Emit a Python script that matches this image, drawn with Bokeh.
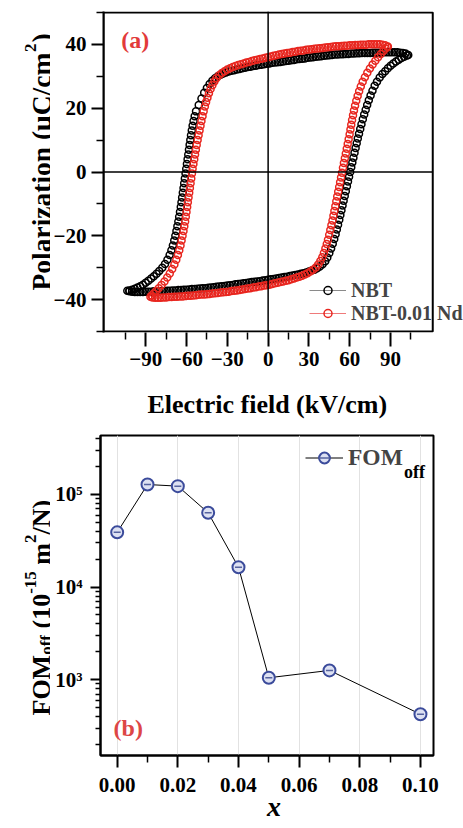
import math
from bokeh.plotting import figure
from bokeh.layouts import column, row
from bokeh.models import (Range1d, FixedTicker, Span, Label, Legend, LegendItem,
                          PrintfTickFormatter, BoxAnnotation)
from bokeh.embed import file_html
from bokeh.resources import INLINE

# ---------------- data: panel (a) P-E loops (E in kV/cm, P in uC/cm2) ----------------
nbt_upper = [(103, 36.7), (101, 37.1), (99, 37.3), (97, 37.4), (95, 37.5), (93, 37.5), (91, 37.5),
             (89, 37.5), (87, 37.5), (85, 37.5), (83, 37.4), (81, 37.4), (79, 37.4), (77, 37.4),
             (75, 37.3), (73, 37.3), (71, 37.3), (69, 37.3), (67, 37.2), (65, 37.2), (63, 37.1),
             (61, 37.1), (59, 37.0), (57, 37.0), (55, 36.9), (53, 36.9), (51, 36.8), (49, 36.8),
             (47, 36.7), (45, 36.6), (43, 36.5), (41, 36.4), (39, 36.3), (37, 36.2), (35, 36.1),
             (33, 36.0), (31, 35.9), (29, 35.8), (27, 35.6), (25, 35.5), (23, 35.4), (21, 35.3),
             (19, 35.1), (17, 35.0), (15, 34.9), (13, 34.8), (11, 34.6), (9, 34.5), (7, 34.4),
             (5, 34.3), (3, 34.2), (1, 34.0), (-1, 33.9), (-3, 33.8), (-5, 33.6), (-7, 33.5),
             (-9, 33.3), (-11, 33.2), (-13, 33.0), (-15, 32.9), (-17, 32.7), (-19, 32.5),
             (-21, 32.3), (-23, 32.1), (-25, 31.9), (-27, 31.7), (-29, 31.5), (-31, 31.2),
             (-33, 30.9), (-35, 30.5), (-37, 30.0), (-39, 29.4), (-41, 28.6), (-43, 27.6),
             (-45, 26.3), (-47, 24.8), (-49, 23.0), (-51, 21.0), (-53, 19.0), (-54, 17.5),
             (-54.8, 16), (-55.5, 14.5), (-56.1, 13), (-56.7, 11.5), (-57.2, 10), (-57.7, 8.5),
             (-58.2, 7), (-58.7, 5.5), (-59.2, 4), (-59.7, 2.5), (-60.2, 1), (-60.7, -0.5),
             (-61.2, -2), (-61.7, -3.5), (-62.2, -5), (-62.7, -6.5), (-63.2, -8), (-63.7, -9.5),
             (-64.2, -11), (-64.8, -12.5), (-65.4, -14), (-66.0, -15.5), (-66.7, -17),
             (-67.4, -18.5), (-68.2, -20), (-69.0, -21.5), (-70.0, -23), (-71.1, -24.5),
             (-72.4, -26), (-74.0, -27.5), (-75.8, -28.8), (-77.8, -30), (-80, -31),
             (-82, -31.9), (-84, -32.7), (-86, -33.4), (-88, -34.1), (-90, -34.7), (-92, -35.3),
             (-94, -35.8), (-96, -36.2), (-98, -36.6), (-100, -36.9), (-102, -37.1),
             (-103.5, -37.2)]

nbt_lower = [(-102, -37.4), (-100, -37.5), (-98, -37.6), (-96, -37.6), (-94, -37.6), (-92, -37.6),
             (-90, -37.5), (-88, -37.5), (-86, -37.5), (-84, -37.4), (-82, -37.4), (-80, -37.4),
             (-78, -37.3), (-76, -37.3), (-74, -37.2), (-72, -37.2), (-70, -37.1), (-68, -37.1),
             (-66, -37.0), (-64, -37.0), (-62, -36.9), (-60, -36.9), (-58, -36.8), (-56, -36.7),
             (-54, -36.7), (-52, -36.6), (-50, -36.5), (-48, -36.4), (-46, -36.4), (-44, -36.3),
             (-42, -36.2), (-40, -36.1), (-38, -36.0), (-36, -35.9), (-34, -35.8), (-32, -35.7),
             (-30, -35.6), (-28, -35.5), (-26, -35.4), (-24, -35.2), (-22, -35.1), (-20, -35.0),
             (-18, -34.9), (-16, -34.8), (-14, -34.6), (-12, -34.5), (-10, -34.4), (-8, -34.3),
             (-6, -34.2), (-4, -34.0), (-2, -33.9), (0, -33.8), (2, -33.6), (4, -33.5),
             (6, -33.4), (8, -33.2), (10, -33.1), (12, -32.9), (14, -32.8), (16, -32.6),
             (18, -32.4), (20, -32.3), (22, -32.1), (24, -31.9), (26, -31.7), (28, -31.5),
             (30, -31.2), (32, -30.9), (34, -30.6), (36, -30.2), (38, -29.6), (40, -28.9),
             (42, -28.0), (43.5, -26.8), (45, -25.4), (46.3, -24), (47.5, -22.5), (48.6, -21),
             (49.6, -19.5), (50.5, -18), (51.4, -16.5), (52.3, -15), (53.1, -13.5), (53.9, -12),
             (54.7, -10.5), (55.5, -9), (56.3, -7.5), (57.1, -6), (57.9, -4.5), (58.7, -3),
             (59.5, -1.5), (60.3, 0), (61.1, 1.5), (61.9, 3), (62.7, 4.5), (63.5, 6),
             (64.3, 7.5), (65.1, 9), (65.9, 10.5), (66.8, 12), (67.7, 13.5), (68.6, 15),
             (69.6, 16.5), (70.6, 18), (71.7, 19.5), (72.8, 21), (74.0, 22.5), (75.3, 24),
             (76.7, 25.5), (78.3, 27), (80.0, 28.3), (82, 29.6), (84, 30.7), (86, 31.6),
             (88, 32.5), (90, 33.3), (92, 34.0), (94, 34.6), (96, 35.2), (98, 35.7),
             (100, 36.1), (102, 36.5)]

nd_upper = [(88, 39.3), (86, 39.7), (84, 39.9), (82, 40.0), (80, 40.0), (78, 40.0), (76, 40.0),
            (74, 40.0), (72, 39.9), (70, 39.9), (68, 39.9), (66, 39.8), (64, 39.8), (62, 39.7),
            (60, 39.7), (58, 39.6), (56, 39.6), (54, 39.5), (52, 39.4), (50, 39.4), (48, 39.3),
            (46, 39.2), (44, 39.1), (42, 39.0), (40, 38.9), (38, 38.8), (36, 38.7), (34, 38.6),
            (32, 38.5), (30, 38.4), (28, 38.3), (26, 38.1), (24, 38.0), (22, 37.9), (20, 37.7),
            (18, 37.6), (16, 37.4), (14, 37.3), (12, 37.1), (10, 37.0), (8, 36.8), (6, 36.6),
            (4, 36.4), (2, 36.2), (0, 36.0), (-2, 35.8), (-4, 35.6), (-6, 35.4), (-8, 35.2),
            (-10, 35.0), (-12, 34.8), (-14, 34.5), (-16, 34.3), (-18, 34.0), (-20, 33.8),
            (-22, 33.5), (-24, 33.2), (-26, 32.9), (-28, 32.5), (-30, 32.1), (-32, 31.6),
            (-34, 31.0), (-36, 30.3), (-38, 29.4), (-39.5, 28.4), (-41, 27.2), (-42.3, 26),
            (-43.5, 24.7), (-44.6, 23.3), (-45.6, 21.9), (-46.5, 20.5), (-47.4, 19),
            (-48.2, 17.5), (-49.0, 16), (-49.7, 14.5), (-50.4, 13), (-51.1, 11.5), (-51.8, 10),
            (-52.5, 8.5), (-53.1, 7), (-53.7, 5.5), (-54.3, 4), (-54.9, 2.5), (-55.5, 1),
            (-56.0, -0.5), (-56.5, -2), (-57.0, -3.5), (-57.5, -5), (-58.0, -6.5), (-58.5, -8),
            (-59.0, -9.5), (-59.5, -11), (-60.0, -12.5), (-60.5, -14), (-61.0, -15.5),
            (-61.6, -17), (-62.2, -18.5), (-62.9, -20), (-63.6, -21.5), (-64.4, -23),
            (-65.3, -24.5), (-66.3, -26), (-67.5, -27.5), (-68.9, -29), (-70.5, -30.4),
            (-72.3, -31.8), (-74.2, -33.1), (-76.2, -34.3), (-78.3, -35.4), (-80.4, -36.4),
            (-82.4, -37.3), (-84.2, -38.1), (-85.6, -38.7), (-86.5, -39.1)]

nd_lower = [(-85, -39.3), (-83, -39.4), (-81, -39.4), (-79, -39.4), (-77, -39.3), (-75, -39.3),
            (-73, -39.2), (-71, -39.2), (-69, -39.1), (-67, -39.1), (-65, -39.0), (-63, -39.0),
            (-61, -38.9), (-59, -38.8), (-57, -38.8), (-55, -38.7), (-53, -38.6), (-51, -38.5),
            (-49, -38.4), (-47, -38.4), (-45, -38.3), (-43, -38.2), (-41, -38.1), (-39, -38.0),
            (-37, -37.9), (-35, -37.8), (-33, -37.7), (-31, -37.6), (-29, -37.5), (-27, -37.3),
            (-25, -37.2), (-23, -37.1), (-21, -37.0), (-19, -36.8), (-17, -36.7), (-15, -36.5),
            (-13, -36.4), (-11, -36.2), (-9, -36.1), (-7, -35.9), (-5, -35.8), (-3, -35.6),
            (-1, -35.5), (1, -35.3), (3, -35.1), (5, -34.9), (7, -34.7), (9, -34.5),
            (11, -34.3), (13, -34.1), (15, -33.9), (17, -33.6), (19, -33.4), (21, -33.1),
            (23, -32.8), (25, -32.5), (27, -32.1), (29, -31.7), (31, -31.2), (33, -30.6),
            (35, -29.9), (36.8, -29.0), (38.4, -27.9), (39.8, -26.7), (41.0, -25.4),
            (42.1, -24), (43.1, -22.6), (44.0, -21.2), (44.9, -19.7), (45.7, -18.2),
            (46.5, -16.7), (47.3, -15.2), (48.0, -13.7), (48.7, -12.2), (49.4, -10.7),
            (50.1, -9.2), (50.8, -7.7), (51.5, -6.2), (52.2, -4.7), (52.9, -3.2), (53.6, -1.7),
            (54.3, -0.2), (55.0, 1.3), (55.7, 2.8), (56.4, 4.3), (57.1, 5.8), (57.8, 7.3),
            (58.5, 8.8), (59.2, 10.3), (59.9, 11.8), (60.5, 13.3), (61.1, 14.8), (61.7, 16.3),
            (62.4, 17.8), (63.1, 19.3), (63.9, 20.8), (64.8, 22.3), (65.8, 23.8), (66.9, 25.3),
            (68.1, 26.8), (69.5, 28.3), (71.1, 29.7), (72.9, 31.1), (74.8, 32.4), (76.8, 33.7),
            (78.8, 34.9), (80.8, 36.0), (82.8, 37.0), (84.7, 37.9), (86.4, 38.7), (87.7, 39.2)]

e_major_ticks = [-90, -60, -30, 0, 30, 60, 90]
e_minor_ticks = [-105, -75, -45, -15, 15, 45, 75, 105]
p_major_ticks = [-40, -20, 0, 20, 40]
p_minor_ticks = [-50, -30, -10, 10, 30, 50]
series_names = ["NBT", "NBT-0.01 Nd"]

# ---------------- data: panel (b) FOM_off vs x ----------------
x_content = [0.00, 0.01, 0.02, 0.03, 0.04, 0.05, 0.07, 0.10]
fom_off = [39000, 128000, 123000, 63400, 16400, 1050, 1260, 424]
x_major_ticks = [0.00, 0.02, 0.04, 0.06, 0.08, 0.10]
x_minor_ticks = [0.01, 0.03, 0.05, 0.07, 0.09]
fom_major_ticks = [1000, 10000, 100000]
fom_tick_labels = ["10\u00b3", "10\u2074", "10\u2075"]
fom_minor_ticks = [200, 300, 400, 500, 600, 700, 800, 900,
                   2000, 3000, 4000, 5000, 6000, 7000, 8000, 9000,
                   20000, 30000, 40000, 50000, 60000, 70000, 80000, 90000,
                   200000, 300000, 400000]

FONT = "Liberation Serif"
RED = "#e8261f"
NBSP = "\u00a0"

# Times-Bold advance widths (per 1000 em) for the hand-built rotated labels
W = {'P': 611, 'o': 500, 'l': 278, 'a': 500, 'r': 444, 'i': 278, 'z': 444, 't': 333,
     'n': 556, ' ': 250, '(': 333, ')': 333, '\u03bc': 556, 'C': 722, '/': 278, 'c': 444,
     'm': 833, '2': 500, 'F': 611, 'O': 778, 'M': 944, 'f': 333, '1': 500, '0': 500,
     '-': 333, '5': 500, 'N': 722}


def text_w(s, size):
    return sum(W.get(ch, 500) for ch in s) * size / 1000.0


def label_strip(height, pieces, y_canvas, y_aligned, base_x):
    """A narrow blank figure that carries a rotated, multi-size axis title.
    y_canvas: start measured from the strip's own bottom edge (frame = whole canvas);
    y_aligned: start measured from the neighbour plot's frame bottom (if frames align)."""
    f = figure(width=50, height=height, output_backend="svg", toolbar_location=None,
               x_range=Range1d(0, 1), y_range=Range1d(0, 1), x_axis_location=None,
               y_axis_location=None, min_border=0, min_border_left=0, min_border_right=0,
               min_border_top=0, min_border_bottom=0)
    if "frame_align" in f.properties():
        f.frame_align = False
        y = y_canvas
    else:
        y = y_aligned
    f.outline_line_color = None
    f.xgrid.visible = False
    f.ygrid.visible = False
    for text, size, dx, gap in pieces:
        y += gap
        f.add_layout(Label(x=base_x + dx, y=y, x_units="screen", y_units="screen",
                           text=text, angle=math.pi / 2, text_align="left",
                           text_baseline="alphabetic", text_font=FONT,
                           text_font_style="bold", text_font_size=f"{size}px",
                           text_color="black"))
        y += text_w(text, size)
    return f


def style_axes(p):
    for ax in (p.xaxis[0], p.yaxis[0]):
        ax.axis_line_width = 2
        ax.axis_line_color = "black"
        ax.major_tick_in = 0
        ax.minor_tick_in = 0
        ax.major_tick_line_width = 2
        ax.minor_tick_line_width = 1.5
        ax.major_label_text_font = FONT
        ax.major_label_text_font_style = "bold"
        ax.major_label_text_font_size = "21px"
        ax.major_label_text_color = "black"
        ax.axis_label_text_color = "black"
        ax.axis_label_text_font = FONT


# ---------------- panel (a) ----------------
# the frame runs to the right edge so the legend text may pass the drawn box
p1 = figure(width=413, height=425, output_backend="svg", toolbar_location=None,
            x_range=Range1d(-121, 143.6), y_range=Range1d(-50.3, 50.3),
            min_border_left=50, min_border_right=0, min_border_top=11,
            min_border_bottom=93)
p1.xgrid.visible = False
p1.ygrid.visible = False
p1.outline_line_color = None
style_axes(p1)
p1.xaxis.axis_line_color = None
p1.xaxis.ticker = FixedTicker(ticks=e_major_ticks, minor_ticks=e_minor_ticks)
p1.yaxis.ticker = FixedTicker(ticks=p_major_ticks, minor_ticks=p_minor_ticks)
p1.xaxis.major_tick_out = 14
p1.xaxis.minor_tick_out = 7
p1.yaxis.major_tick_out = 12
p1.yaxis.minor_tick_out = 7
p1.xaxis.major_label_standoff = 5
p1.yaxis.major_label_standoff = 5
p1.xaxis.axis_label = "Electric field (kV/cm)" + NBSP * 5
p1.xaxis.axis_label_text_font_style = "bold"
p1.xaxis.axis_label_text_font_size = "26px"
p1.xaxis.axis_label_standoff = 21

# drawn plot box and zero lines
p1.add_layout(BoxAnnotation(left=-121, right=121, bottom=-50, top=50, fill_alpha=0,
                            line_color="black", line_width=2, line_alpha=1))
p1.add_layout(Span(location=0, dimension="height", line_color="black", line_width=1.5))
p1.add_layout(BoxAnnotation(left=-121, right=121, bottom=0, top=0, fill_alpha=0,
                            line_color="black", line_width=1.5, line_alpha=1))

nbt_pts = nbt_upper + nbt_lower
nd_pts = nd_upper + nd_lower
s_nbt = p1.scatter([e for e, _ in nbt_pts], [v for _, v in nbt_pts], marker="circle",
                   size=7, line_color="black", line_width=1.5, fill_color=None)
s_nd = p1.scatter([e for e, _ in nd_pts], [v for _, v in nd_pts], marker="circle",
                  size=7, line_color=RED, line_width=1.5, fill_color=None)
# legend-only line styles (a single NaN point draws nothing in the plot)
l_nbt = p1.line(x=[math.nan], y=[math.nan], line_color="#8a8a8a", line_width=1.2)
l_nd = p1.line(x=[math.nan], y=[math.nan], line_color="#ef7a7a", line_width=1.2)

leg1 = Legend(items=[LegendItem(label=series_names[0], renderers=[l_nbt, s_nbt]),
                     LegendItem(label=series_names[1], renderers=[l_nd, s_nd])],
              location=(206, 7.5), padding=0, margin=0, spacing=0,
              glyph_width=37, glyph_height=20, label_height=23, label_standoff=5,
              label_text_font=FONT, label_text_font_style="bold",
              label_text_font_size="20px", border_line_alpha=0,
              background_fill_alpha=0)
p1.add_layout(leg1)

p1.add_layout(Label(x=-108, y=41.5, text="(a)", text_font=FONT, text_font_style="bold",
                    text_font_size="24px", text_color="#e23a3a", text_baseline="middle",
                    text_align="left"))

lab_a = label_strip(425, [("Polarization (\u03bcC/cm", 27.5, 0, 0), ("2", 17, -11, 1),
                          (")", 27.5, 0, 1)], y_canvas=135, y_aligned=42, base_x=41)

# ---------------- panel (b) ----------------
p2 = figure(width=413, height=403, output_backend="svg", toolbar_location=None,
            y_axis_type="log", x_range=Range1d(-0.0055, 0.1043), y_range=Range1d(152, 4.33e5),
            min_border_left=50, min_border_right=30, min_border_top=10,
            min_border_bottom=73)
style_axes(p2)
p2.outline_line_color = "black"
p2.outline_line_width = 2
p2.ygrid.visible = False
p2.xgrid.grid_line_color = "#e2e2e2"
p2.xgrid.grid_line_width = 1
p2.xaxis.ticker = FixedTicker(ticks=x_major_ticks, minor_ticks=x_minor_ticks)
p2.yaxis.ticker = FixedTicker(ticks=fom_major_ticks, minor_ticks=fom_minor_ticks)
p2.xaxis.formatter = PrintfTickFormatter(format="%.2f")
p2.yaxis.major_label_overrides = dict(zip(fom_major_ticks, fom_tick_labels))
p2.xaxis.major_tick_out = 12
p2.xaxis.minor_tick_out = 7
p2.yaxis.major_tick_out = 10
p2.yaxis.minor_tick_out = 5
p2.xaxis.major_label_standoff = 10
p2.yaxis.major_label_standoff = 8
p2.xaxis.axis_label = NBSP * 2 + "x"
p2.xaxis.axis_label_text_font_style = "bold italic"
p2.xaxis.axis_label_text_font_size = "28px"
p2.xaxis.axis_label_standoff = -4

ln = p2.line(x_content, fom_off, line_color="black", line_width=1)
sc = p2.scatter(x_content, fom_off, marker="circle", size=12, line_color="#3b4b9b",
                line_width=2, fill_color="#dde1f2")
dsh = p2.scatter(x_content, fom_off, marker="dash", size=7, line_color="#56639f",
                 line_width=1.5)

leg2 = Legend(items=[LegendItem(label="FOM", renderers=[ln, sc, dsh])],
              location=(205, 284), padding=0, margin=0, spacing=0,
              glyph_width=38, glyph_height=27, label_height=27, label_standoff=5,
              label_text_font=FONT, label_text_font_style="bold",
              label_text_font_size="23.5px", border_line_alpha=0,
              background_fill_alpha=0)
p2.add_layout(leg2)
p2.add_layout(Label(x=303.5, y=283.5, x_units="screen", y_units="screen", text="off",
                    text_font=FONT, text_font_style="bold", text_font_size="18px",
                    text_color="black", text_baseline="alphabetic", text_align="left"))

p2.add_layout(Label(x=-0.0012, y=300, text="(b)", text_font=FONT, text_font_style="bold",
                    text_font_size="24px", text_color="#dd4646", text_baseline="middle",
                    text_align="left"))

lab_b = label_strip(403, [("FOM", 26, 0, 0), ("off", 17, 5, 0), ("(10", 26, 0, 6.5),
                          ("-15", 17, -11, 0), ("m", 26, 0, 6.5), ("2", 17, -11, 0),
                          ("/N)", 26, 0, 0)], y_canvas=113, y_aligned=40, base_x=41)

layout = column(row(lab_a, p1, spacing=0), row(lab_b, p2, spacing=0), spacing=0)
open("out.html", "w").write(file_html(layout, INLINE))
